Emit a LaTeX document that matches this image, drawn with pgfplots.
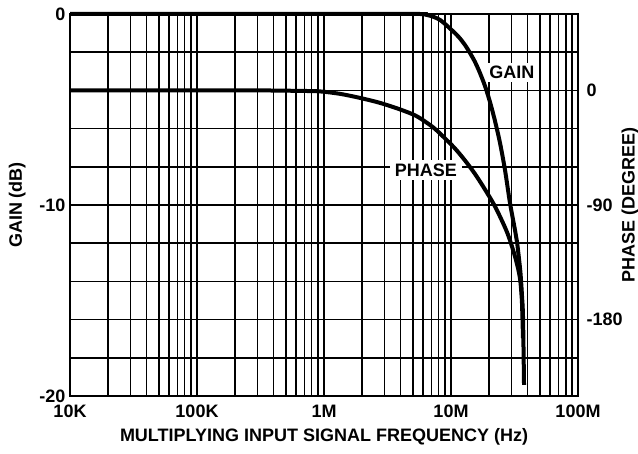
\documentclass[border=0pt]{standalone}
\usepackage{fontspec}
\setmainfont{Liberation Sans}
\usepackage{pgfplots}
\pgfplotsset{compat=1.18}
\newcommand\lbl{\fontsize{13.5}{16}\selectfont\bfseries}
\begin{document}
\begin{tikzpicture}
\begin{axis}[
  name=main,
  scale only axis, width=381pt, height=286.5pt,
  xmode=log, xmin=1e4, xmax=1e8,
  ymin=-20, ymax=0,
  xtick={1e4,1e5,1e6,1e7,1e8},
  xticklabels={10K,100K,1M,10M,100M},
  ytick={-20,-10,0},
  minor ytick={-18,-16,-14,-12,-8,-6,-4,-2},
  grid=both,
  major grid style={black, line width=1.2pt},
  minor grid style={black, line width=1.2pt},
  axis line style={black, line width=1.2pt},
  tick style={draw=none},
  /pgf/number format/assume math mode=true,
  tick label style={font=\lbl},
  xticklabel style={yshift=-3pt},
  xlabel={MULTIPLYING INPUT SIGNAL FREQUENCY (Hz)},
  ylabel={GAIN (dB)},
  every axis x label/.style={at={(axis description cs:0.5,0)}, anchor=center, yshift=-30.75pt, font=\lbl},
  every axis y label/.style={at={(axis description cs:0,0.5)}, anchor=center, xshift=-39.5pt, rotate=90, font=\lbl},
  clip=false,
]
\node[fill=white, inner sep=2.5pt, font=\lbl] at (axis cs:3.02e7,-3.06) {GAIN};
\node[fill=white, inner xsep=4pt, inner ysep=2.5pt, font=\lbl] at (axis cs:6.35e6,-8.17) {PHASE};
\addplot[black, line width=3pt, line join=round, smooth, tension=0.5] coordinates {
(1e4,0) (1e6,0) (5.70e6,0) (6.24e6,-0.03) (6.84e6,-0.09) (7.48e6,-0.18)
(8.19e6,-0.31) (8.97e6,-0.52) (9.82e6,-0.76) (1.075e7,-1.00)
(1.177e7,-1.28) (1.288e7,-1.62) (1.411e7,-2.04) (1.545e7,-2.51)
(1.691e7,-3.09) (1.852e7,-3.77) (2.028e7,-4.61) (2.220e7,-5.60)
(2.431e7,-6.75) (2.662e7,-8.17) (2.915e7,-9.90) (3.190e7,-11.31)
(3.311e7,-11.94) (3.494e7,-13.30) (3.558e7,-13.93) (3.623e7,-14.77)
(3.690e7,-15.86) (3.758e7,-19.42)
};
\end{axis}
\begin{axis}[
  scale only axis, width=381pt, height=286.5pt,
  xmode=log, xmin=1e4, xmax=1e8,
  ymin=-240, ymax=60,
  axis x line=none,
  axis y line*=right,
  ytick={-180,-90,0},
  axis line style={black, line width=1.2pt},
  tick style={draw=none},
  /pgf/number format/assume math mode=true,
  tick label style={font=\lbl},
  yticklabel style={xshift=3pt},
  ylabel={PHASE (DEGREE)},
  every axis y label/.style={at={(axis description cs:1,0.5)}, anchor=center, xshift=39pt, rotate=90, font=\lbl},
  clip=false,
]
\addplot[black, line width=3pt, line join=round, smooth, tension=0.5] coordinates {
(1e4,0) (2.61e5,0) (6.47e5,-0.4) (9.31e5,-0.8) (1.337e6,-2.7)
(1.920e6,-5.9) (2.759e6,-9.8) (3.963e6,-14.9) (5.21e6,-19.6)
(6.24e6,-24.4) (7.48e6,-30.2) (8.97e6,-37.7) (1.075e7,-45.6)
(1.288e7,-55.0) (1.545e7,-65.6) (1.852e7,-77.8) (2.220e7,-91.1)
(2.662e7,-107.6) (2.915e7,-117.8) (3.190e7,-130.4) (3.373e7,-139.8)
(3.494e7,-147.7) (3.558e7,-155.5) (3.623e7,-167.3) (3.690e7,-194.8)
};
\end{axis}
\pgfresetboundingbox
\path ([shift={(-52.5pt,-43.5pt)}]main.south west) rectangle ([shift={(45pt,10.5pt)}]main.north east);
\end{tikzpicture}
\end{document}
